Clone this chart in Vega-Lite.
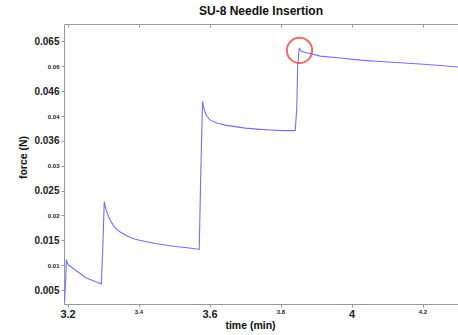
{
  "$schema": "https://vega.github.io/schema/vega-lite/v6.json",
  "width": 394,
  "height": 280,
  "autosize": {"type": "none"},
  "padding": {"left": 64, "top": 24, "right": 0, "bottom": 31},
  "background": "white",
  "config": {
    "view": {"stroke": null},
    "font": "Liberation Sans"
  },
  "title": {
    "text": "SU-8 Needle Insertion",
    "fontSize": 12,
    "fontWeight": "bold",
    "color": "#111",
    "anchor": "middle",
    "offset": 6
  },
  "datasets": {
    "force": [
      {"t": 3.1913, "f": 0.00258},
      {"t": 3.1949, "f": 0.00702},
      {"t": 3.1963, "f": 0.01115},
      {"t": 3.1992, "f": 0.01044},
      {"t": 3.2028, "f": 0.01004},
      {"t": 3.2104, "f": 0.00964},
      {"t": 3.2217, "f": 0.00903},
      {"t": 3.2358, "f": 0.00833},
      {"t": 3.2499, "f": 0.00752},
      {"t": 3.2639, "f": 0.00712},
      {"t": 3.2780, "f": 0.00671},
      {"t": 3.2893, "f": 0.00641},
      {"t": 3.2949, "f": 0.00621},
      {"t": 3.2992, "f": 0.01306},
      {"t": 3.3034, "f": 0.02280},
      {"t": 3.3062, "f": 0.02173},
      {"t": 3.3104, "f": 0.02073},
      {"t": 3.3155, "f": 0.01978},
      {"t": 3.3231, "f": 0.01871},
      {"t": 3.3344, "f": 0.01744},
      {"t": 3.3485, "f": 0.01669},
      {"t": 3.3682, "f": 0.01589},
      {"t": 3.3907, "f": 0.01522},
      {"t": 3.4189, "f": 0.01478},
      {"t": 3.4470, "f": 0.01438},
      {"t": 3.4752, "f": 0.01407},
      {"t": 3.5034, "f": 0.01377},
      {"t": 3.5315, "f": 0.01357},
      {"t": 3.5541, "f": 0.01337},
      {"t": 3.5710, "f": 0.01317},
      {"t": 3.5752, "f": 0.02818},
      {"t": 3.5803, "f": 0.04296},
      {"t": 3.5837, "f": 0.04169},
      {"t": 3.5879, "f": 0.04069},
      {"t": 3.5927, "f": 0.03994},
      {"t": 3.6020, "f": 0.03917},
      {"t": 3.6208, "f": 0.03861},
      {"t": 3.6442, "f": 0.03817},
      {"t": 3.6724, "f": 0.03786},
      {"t": 3.7006, "f": 0.03756},
      {"t": 3.7344, "f": 0.03736},
      {"t": 3.7710, "f": 0.03720},
      {"t": 3.8076, "f": 0.03706},
      {"t": 3.8414, "f": 0.03706},
      {"t": 3.8456, "f": 0.04129},
      {"t": 3.8485, "f": 0.05036},
      {"t": 3.8527, "f": 0.05359},
      {"t": 3.8583, "f": 0.05308},
      {"t": 3.8696, "f": 0.05278},
      {"t": 3.8837, "f": 0.05258},
      {"t": 3.9118, "f": 0.05204},
      {"t": 3.9682, "f": 0.05167},
      {"t": 4.0245, "f": 0.05123},
      {"t": 4.0808, "f": 0.05097},
      {"t": 4.1372, "f": 0.05071},
      {"t": 4.1935, "f": 0.05046},
      {"t": 4.2499, "f": 0.05016},
      {"t": 4.3006, "f": 0.04986}
    ],
    "marker": [
      {"t": 3.8535, "f": 0.05319}
    ]
  },
  "encoding": {
    "y": {
      "field": "f", "type": "quantitative",
      "scale": {"domain": [0.0022, 0.0585], "nice": false, "zero": false},
      "axis": {
        "title": "force (N)",
        "titleFontSize": 10.5, "titleFontWeight": "bold", "titleColor": "#111", "titlePadding": 5,
        "titleY": 133,
        "values": [0.005, 0.01, 0.015, 0.02, 0.025, 0.03, 0.035, 0.04, 0.045, 0.05, 0.055],
        "labelExpr": "['0.005','0.01','0.015','0.02','0.025','0.03','0.036','0.04','0.046','0.06','0.065'][round(datum.value*200)-1]",
        "labelFontWeight": "bold",
        "labelColor": "#222",
        "labelFontSize": {"condition": {"test": "round(datum.value*200) % 2 == 1", "value": 10}, "value": 6},
        "labelPadding": 2,
        "grid": false,
        "domainColor": "#999",
        "tickColor": "#999",
        "tickSize": 3
      }
    }
  },
  "layer": [
    {
      "data": {"name": "force"},
      "mark": {"type": "line", "color": "#7070f8", "strokeWidth": 1.1, "clip": true},
      "encoding": {
        "x": {
          "field": "t", "type": "quantitative",
          "scale": {"domain": [3.19, 4.30], "nice": false, "zero": false},
          "axis": {
            "title": "time (min)",
            "titleFontSize": 10.5, "titleFontWeight": "bold", "titleColor": "#111", "titlePadding": 1,
            "titleX": 186,
            "values": [3.2, 3.4, 3.6, 3.8, 4.0, 4.2],
            "labelExpr": "toString(round(datum.value*10)/10)",
            "labelFontWeight": "bold",
            "labelColor": "#222",
            "labelFontSize": {"condition": {"test": "round(datum.value*10) % 4 == 0", "value": 11}, "value": 6},
            "labelPadding": 1,
            "grid": false,
            "domainColor": "#999",
            "tickColor": "#999",
            "tickSize": 3
          }
        }
      }
    },
    {
      "data": {"name": "marker"},
      "mark": {"type": "point", "shape": "circle", "filled": false, "color": "#e83030", "strokeWidth": 2, "size": 640},
      "encoding": {
        "x": {
          "field": "t", "type": "quantitative",
          "scale": {"domain": [3.19, 4.30], "nice": false, "zero": false},
          "axis": {
            "orient": "top",
            "title": null,
            "labels": false,
            "values": [3.2, 3.4, 3.6, 3.8, 4.0, 4.2],
            "grid": false,
            "domainColor": "#999",
            "tickColor": "#999",
            "tickSize": -3
          }
        }
      }
    }
  ],
  "resolve": {"axis": {"x": "independent"}}
}
